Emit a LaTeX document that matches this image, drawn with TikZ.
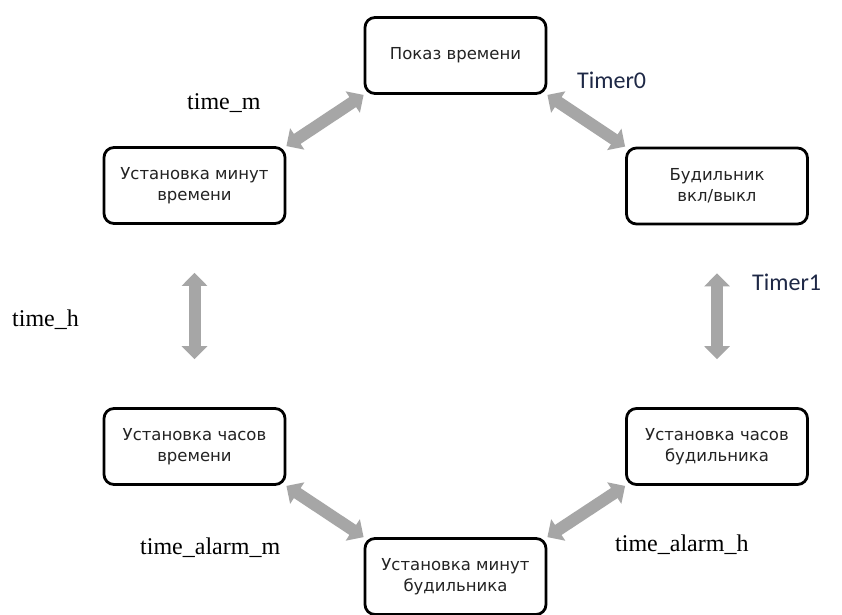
\documentclass[tikz,border=0pt]{standalone}
\usepackage{fontspec}
\setmainfont{DejaVu Sans}
\newfontfamily\seriffont{Liberation Serif}
\newfontfamily\calfont{Carlito}
\usetikzlibrary{arrows.meta}
\definecolor{arrgray}{RGB}{166,166,166}
\definecolor{boxtext}{RGB}{35,35,35}
\definecolor{timercol}{RGB}{30,40,70}
\begin{document}
\begin{tikzpicture}[x=1pt,y=-1pt,
 state/.style={draw=black, line width=2.8pt, rounded corners=10pt, minimum width=181pt, minimum height=76pt, inner sep=0pt, align=center, text=boxtext, font=\fontsize{16.5}{21}\selectfont},
 link/.style={arrgray, line width=12pt, {Triangle[width=25pt,length=13pt]}-{Triangle[width=25pt,length=13pt]}},
 serlab/.style={font=\seriffont\fontsize{24}{28}\selectfont, anchor=west, inner sep=0pt},
 timlab/.style={font=\calfont\fontsize{24}{28}\selectfont, text=timercol, anchor=west, inner sep=0pt}]
\useasboundingbox[fill=white] (0,0) rectangle (842,614);

\node[state] (top) at (455.5,55.5) {Показ времени};
\node[state] (m1) at (194.5,185.5) {Установка минут\\времени};
\node[state] (bud) at (717,186) {Будильник\\вкл/выкл};
\node[state] (h1) at (194.5,446.5) {Установка часов\\времени};
\node[state] (ah) at (717,446.5) {Установка часов\\будильника};
\node[state] (am) at (455.5,576.5) {Установка минут\\будильника};

\draw[link] (m1.north east) -- (top.south west);
\draw[link] (top.south east) -- (bud.north west);
\draw[link, shorten <=48pt, shorten >=48pt] (m1.south) -- (h1.north);
\draw[link, shorten <=48pt, shorten >=48pt] (bud.south) -- (ah.north);
\draw[link] (h1.south east) -- (am.north west);
\draw[link] (ah.south west) -- (am.north east);

\node[serlab] (lm) at (187,103) {time\_m};
\node[timlab] (t0) at (577,80) {Timer0};
\node[serlab] (lh) at (12,320) {time\_h};
\node[timlab] (t1) at (752,282) {Timer1};
\node[serlab] (lam) at (140,548) {time\_alarm\_m};
\node[serlab] (lah) at (615,545) {time\_alarm\_h};
\end{tikzpicture}
\end{document}
